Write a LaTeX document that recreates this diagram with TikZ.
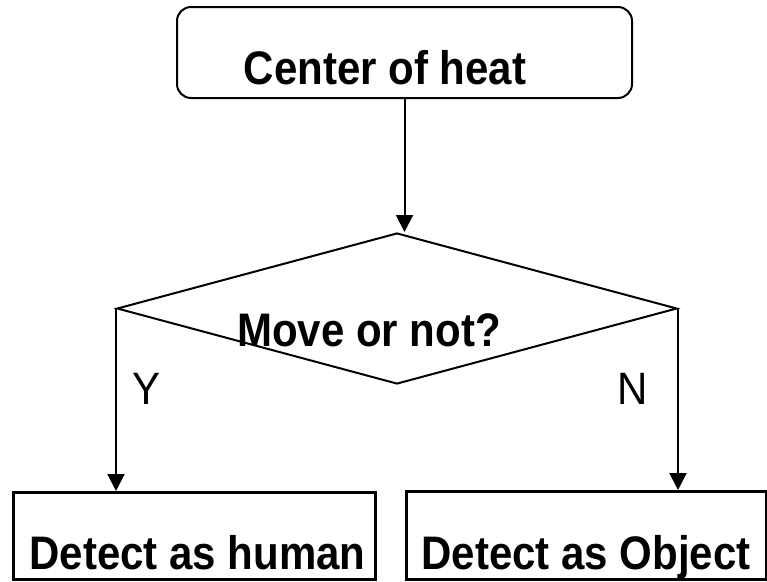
\documentclass[tikz,border=0pt]{standalone}
\usepackage{fontspec}
\setmainfont{Liberation Sans}
\usetikzlibrary{shapes.geometric,arrows.meta}
\newcommand{\tallbf}[1]{\scalebox{1}[1.12]{\bfseries #1}}
\newcommand{\tallrm}[1]{\scalebox{1}[1.08]{#1}}
\begin{document}
\begin{tikzpicture}[x=1pt,y=-1pt,
  every node/.style={inner sep=0pt},
  lbl/.style={font=\fontsize{42}{46}\selectfont, anchor=base},
  yn/.style={font=\fontsize{42}{46}\selectfont, anchor=base},
  flow/.style={line width=2pt, -{Triangle[length=17pt,width=17pt]}},
  boxline/.style={draw, line width=2pt}]
  \useasboundingbox (0,0) rectangle (767,581);

  % start block
  \node[boxline, rounded corners=14pt, minimum width=455pt, minimum height=91pt]
    (start) at (404.5,52.5) {};
  \node[lbl] (starttxt) at (385,84) {\tallbf{Center of heat}};

  % decision
  \node[draw, line width=2pt, diamond, minimum width=560pt, minimum height=151pt,
        inner sep=0pt] (dec) at (397,308.5) {};
  \node[lbl] (dectxt) at (369,346) {\tallbf{Move or not?}};

  % outcome blocks
  \node[draw, line width=2.6pt, minimum width=362pt, minimum height=87pt, anchor=north west]
    (human) at (12,491) {};
  \node[lbl] (humantxt) at (197.5,569) {\tallbf{Detect as human}};
  \node[draw, line width=2.6pt, minimum width=360pt, minimum height=88pt, anchor=north west]
    (object) at (405,490) {};
  \node[lbl] (objecttxt) at (586,569) {\tallbf{Detect as Object}};

  % branch labels
  \node[yn] (ylbl) at (147,404) {\tallrm{Y}};
  \node[yn] (nlbl) at (633,404) {\tallrm{N}};

  % connectors
  \draw[flow] (start.south) -- (start.south |- dec.north);
  \draw[flow] (dec.west) -- (dec.west |- human.north);
  \draw[flow] (dec.east) -- (dec.east |- object.north);
\end{tikzpicture}
\end{document}
